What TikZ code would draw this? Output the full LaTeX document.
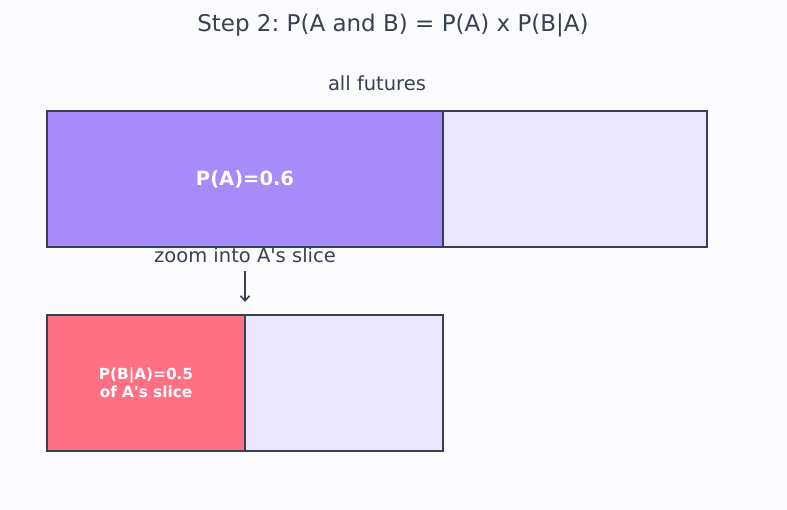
\documentclass[tikz,border=0pt]{standalone}
\usepackage{fontspec}
\setmainfont{DejaVu Sans}
\usetikzlibrary{arrows.meta}
\definecolor{inkgray}{HTML}{374151}
\definecolor{bgpaper}{HTML}{FCFCFF}
\definecolor{purpleA}{HTML}{A78BFA}
\definecolor{lavender}{HTML}{EAE7FD}
\definecolor{redB}{HTML}{FF7085}
\frenchspacing
\begin{document}
\begin{tikzpicture}[x=1pt,y=-1pt,
  slicebox/.style={draw=inkgray,line width=2pt},
  lbl/.style={text=inkgray,font=\fontsize{19.5}{23}\selectfont}]
  % Fundo
  \fill[bgpaper] (0,0) rectangle (787,510);
  \useasboundingbox (0,0) rectangle (787,510);
  % Titulo
  \node[text=inkgray,font=\fontsize{23}{27}\selectfont] (title) at (393,25) {Step 2: P(A and B) = P(A) x P(B|A)};
  \node[lbl] (allfut) at (377,83) {all futures};
  % Caixa de cima
  \fill[lavender] (443,111) rectangle (707,247);
  \fill[purpleA] (47,111) rectangle (443,247);
  \draw[slicebox] (47,111) rectangle (707,247);
  \draw[slicebox] (443,111) -- (443,247);
  \node[text=white,font=\bfseries\fontsize{19.5}{23}\selectfont] (pa) at (245,179) {P(A)=0.6};
  % Zoom
  \node[lbl] (zoom) at (245,255) {zoom into A\textquotesingle s slice};
  \coordinate (arrtop) at (245,271);
  \coordinate (arrbot) at (245,302);
  \draw[inkgray,line width=1.6pt,-{Straight Barb[length=5pt,width=9pt]}] (arrtop) -- (arrbot);
  % Caixa de baixo
  \fill[lavender] (245,315) rectangle (443,451);
  \fill[redB] (47,315) rectangle (245,451);
  \draw[slicebox] (47,315) rectangle (443,451);
  \draw[slicebox] (245,315) -- (245,451);
  \node[text=white,align=center,font=\bfseries\fontsize{15.3}{18.5}\selectfont] (pba) at (146,383) {P(B|A)=0.5\\of A\textquotesingle s slice};
\end{tikzpicture}
\end{document}
